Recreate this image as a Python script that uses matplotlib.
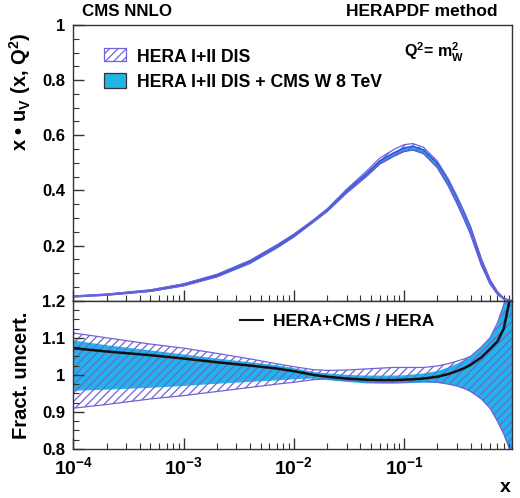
import numpy as np
import matplotlib
matplotlib.use("Agg")
import matplotlib.pyplot as plt
from matplotlib.patches import Rectangle
from matplotlib.lines import Line2D
from matplotlib.ticker import FixedLocator, NullFormatter, MultipleLocator

plt.rcParams['font.family'] = ['Liberation Sans', 'DejaVu Sans']
plt.rcParams['font.weight'] = 'bold'
plt.rcParams['mathtext.fontset'] = 'custom'
plt.rcParams['mathtext.rm'] = 'Liberation Sans:bold'
plt.rcParams['mathtext.bf'] = 'Liberation Sans:bold'
plt.rcParams['mathtext.it'] = 'Liberation Sans:bold'
plt.rcParams['hatch.linewidth'] = 0.9

# x grid
x_pts = [1e-4, 2e-4, 5e-4, 1e-3, 2e-3, 4e-3, 7e-3, 0.01, 0.015, 0.02, 0.03, 0.045,
         0.06, 0.08, 0.1, 0.12, 0.15, 0.2, 0.25, 0.3, 0.35, 0.4, 0.5, 0.6, 0.7,
         0.8, 0.9, 0.955]

# upper panel: x*u_v bands
hera_hi = [0.0167, 0.0237, 0.039, 0.0611, 0.0952, 0.146, 0.202, 0.241, 0.293, 0.333,
           0.404, 0.468, 0.517, 0.548, 0.566, 0.570, 0.556, 0.506, 0.443, 0.380,
           0.321, 0.266, 0.1505, 0.0748, 0.0319, 0.0083, 0.001, 0.00013]
hera_lo = [0.01365, 0.0198, 0.0337, 0.0538, 0.086, 0.135, 0.191, 0.231, 0.285, 0.325,
           0.393, 0.452, 0.498, 0.526, 0.544, 0.548, 0.535, 0.484, 0.419, 0.355,
           0.297, 0.242, 0.131, 0.062, 0.0245, 0.0059, 0.00064, 0.000075]
cms_hi = [0.0164, 0.0232, 0.0384, 0.0601, 0.094, 0.1448, 0.201, 0.240, 0.291, 0.330,
          0.399, 0.460, 0.507, 0.536, 0.554, 0.560, 0.547, 0.499, 0.439, 0.377,
          0.320, 0.266, 0.1505, 0.0748, 0.0318, 0.0083, 0.001, 0.00013]
cms_lo = [0.01436, 0.0206, 0.0347, 0.0553, 0.0878, 0.1373, 0.193, 0.233, 0.286, 0.324,
          0.391, 0.450, 0.496, 0.524, 0.542, 0.547, 0.534, 0.483, 0.419, 0.355,
          0.296, 0.242, 0.131, 0.062, 0.0245, 0.0059, 0.00064, 0.000075]

# lower panel: fractional uncertainties and ratio
hera_rel_hi = [1.113, 1.10, 1.083, 1.072, 1.058, 1.043, 1.03, 1.022, 1.014, 1.012,
               1.013, 1.016, 1.018, 1.02, 1.02, 1.02, 1.02, 1.024, 1.03, 1.037,
               1.043, 1.05, 1.075, 1.1, 1.14, 1.19, 1.25, 1.3]
hera_rel_lo = [0.91, 0.92, 0.935, 0.944, 0.955, 0.966, 0.975, 0.98, 0.987, 0.989,
               0.985, 0.981, 0.98, 0.98, 0.98, 0.981, 0.982, 0.98, 0.975, 0.97,
               0.963, 0.955, 0.935, 0.91, 0.875, 0.84, 0.80, 0.75]
cms_rel_hi = [1.093, 1.08, 1.066, 1.055, 1.044, 1.034, 1.026, 1.018, 1.008, 1.004,
              1.0, 0.998, 0.998, 0.998, 0.999, 1.001, 1.004, 1.01, 1.02, 1.03,
              1.04, 1.05, 1.075, 1.1, 1.135, 1.19, 1.26, 1.32]
cms_rel_lo = [0.957, 0.96, 0.965, 0.97, 0.976, 0.981, 0.985, 0.988, 0.99, 0.986,
              0.981, 0.977, 0.976, 0.976, 0.977, 0.978, 0.979, 0.978, 0.975, 0.97,
              0.962, 0.955, 0.935, 0.91, 0.875, 0.84, 0.80, 0.75]
ratio = [1.072, 1.063, 1.053, 1.044, 1.034, 1.025, 1.017, 1.01, 1.0, 0.995,
         0.99, 0.987, 0.986, 0.986, 0.987, 0.988, 0.99, 0.995, 1.002, 1.01,
         1.018, 1.027, 1.047, 1.07, 1.09, 1.125, 1.2, 1.26]

x_major = [1e-4, 1e-3, 1e-2, 1e-1]
x_labels = [r'$\mathbf{10^{-4}}$', r'$\mathbf{10^{-3}}$', r'$\mathbf{10^{-2}}$', r'$\mathbf{10^{-1}}$']

CYAN = '#22b4e6'
PURPLE = '#6f63d8'
BLUE = '#2f55e0'
FRAME = '#333333'

W, H = 520, 498
def fx(px):
    return px / W
def fy(py):
    return 1 - py / H

fig = plt.figure(figsize=(W / 100, H / 100), dpi=100)
ax1 = fig.add_axes([fx(73.3), fy(300.7), (512.3 - 73.3) / W, (300.7 - 25) / H])
ax2 = fig.add_axes([fx(73.3), fy(449), (512.3 - 73.3) / W, (449 - 300.7) / H])

x = np.array(x_pts)

# upper panel
ax1.fill_between(x, cms_lo, cms_hi, facecolor=CYAN, edgecolor='none')
ax1.fill_between(x, hera_lo, hera_hi, facecolor='none', edgecolor=PURPLE,
                 hatch='////', linewidth=0)
ax1.plot(x, cms_hi, color=BLUE, lw=1.2)
ax1.plot(x, cms_lo, color=BLUE, lw=1.2)
ax1.plot(x, hera_hi, color=PURPLE, lw=0.9)
ax1.plot(x, hera_lo, color=PURPLE, lw=0.9)
ax1.set_ylim(0, 1)

# lower panel
ax2.fill_between(x, cms_rel_lo, cms_rel_hi, facecolor=CYAN, edgecolor='none')
ax2.fill_between(x, hera_rel_lo, hera_rel_hi, facecolor='none', edgecolor=PURPLE,
                 hatch='////', linewidth=0)
ax2.plot(x, hera_rel_hi, color=PURPLE, lw=0.9)
ax2.plot(x, hera_rel_lo, color=PURPLE, lw=0.9)
ax2.plot(x, ratio, color='#111111', lw=1.8)
ax2.set_ylim(0.8, 1.2)

for ax in (ax1, ax2):
    ax.set_xscale('log')
    ax.set_xlim(1e-4, 0.955)
    ax.xaxis.set_major_locator(FixedLocator(x_major))
    ax.xaxis.set_minor_locator(FixedLocator(
        [m * 10.0 ** e for e in range(-4, 0) for m in range(2, 10) if m * 10.0 ** e < 0.955]))
    ax.tick_params(which='both', direction='in', top=False, right=False,
                   color=FRAME, labelsize=12, pad=6)
    ax.tick_params(which='major', length=8, width=1)
    ax.tick_params(which='minor', length=4, width=0.8)
    for s in ax.spines.values():
        s.set_color(FRAME)
        s.set_linewidth(1.0)

ax1.xaxis.set_major_formatter(NullFormatter())
ax1.xaxis.set_minor_formatter(NullFormatter())
ax1.set_yticks([0.2, 0.4, 0.6, 0.8, 1.0])
ax1.set_yticklabels(['0.2', '0.4', '0.6', '0.8', '1'])
ax1.yaxis.set_minor_locator(MultipleLocator(0.05))

ax2.set_xticks(x_major)
ax2.set_xticklabels(x_labels)
ax2.xaxis.set_minor_formatter(NullFormatter())
ax2.tick_params(axis='x', labelsize=14, pad=5)
ax2.set_yticks([0.8, 0.9, 1.0, 1.1, 1.2])
ax2.set_yticklabels(['0.8', '0.9', '1', '1.1', '1.2'])
ax2.yaxis.set_minor_locator(MultipleLocator(0.025))
for lab in ax2.get_xticklabels() + ax2.get_yticklabels() + ax1.get_yticklabels():
    lab.set_fontweight('bold')

# titles and labels
fig.text(fx(82), fy(12), 'CMS NNLO', fontsize=12.2, fontweight='bold', va='center', ha='left')
fig.text(fx(497), fy(12), 'HERAPDF method', fontsize=12.5, fontweight='bold', va='center', ha='right')
fig.text(fx(404), fy(52), r'$\mathbf{Q^{2}}$= $\mathbf{m_{W}^{2}}$', fontsize=11.5,
         fontweight='bold', va='center', ha='left')
fig.text(fx(20), fy(92), r'x • u$_{\mathbf{V}}$ (x, Q$^{\mathbf{2}}$)', rotation=90,
         fontsize=14.5, fontweight='bold', va='center', ha='center')
fig.text(fx(22), fy(375), 'Fract. uncert.', rotation=90, fontsize=14.5,
         fontweight='bold', va='center', ha='center')
fig.text(fx(505), fy(487), 'x', fontsize=14, fontweight='bold', va='center', ha='center')

# legend, upper
fig.add_artist(Rectangle((fx(104), fy(61)), 22 / W, 13 / H, transform=fig.transFigure,
                         facecolor='white', edgecolor=PURPLE, hatch='////', lw=0.9))
fig.add_artist(Rectangle((fx(104), fy(88)), 22 / W, 15 / H, transform=fig.transFigure,
                         facecolor=CYAN, edgecolor='#333333', lw=0.9))
fig.text(fx(137), fy(57), 'HERA I+II DIS', fontsize=12.7, fontweight='bold', va='center')
fig.text(fx(137), fy(82), 'HERA I+II DIS + CMS W 8 TeV', fontsize=12.7, fontweight='bold', va='center')

# legend, lower
fig.add_artist(Line2D([fx(240), fx(263)], [fy(320), fy(320)], transform=fig.transFigure,
                      color='#111111', lw=1.5))
fig.text(fx(273), fy(321), 'HERA+CMS / HERA', fontsize=12.5, fontweight='bold', va='center')

fig.savefig('out.png', dpi=100)
